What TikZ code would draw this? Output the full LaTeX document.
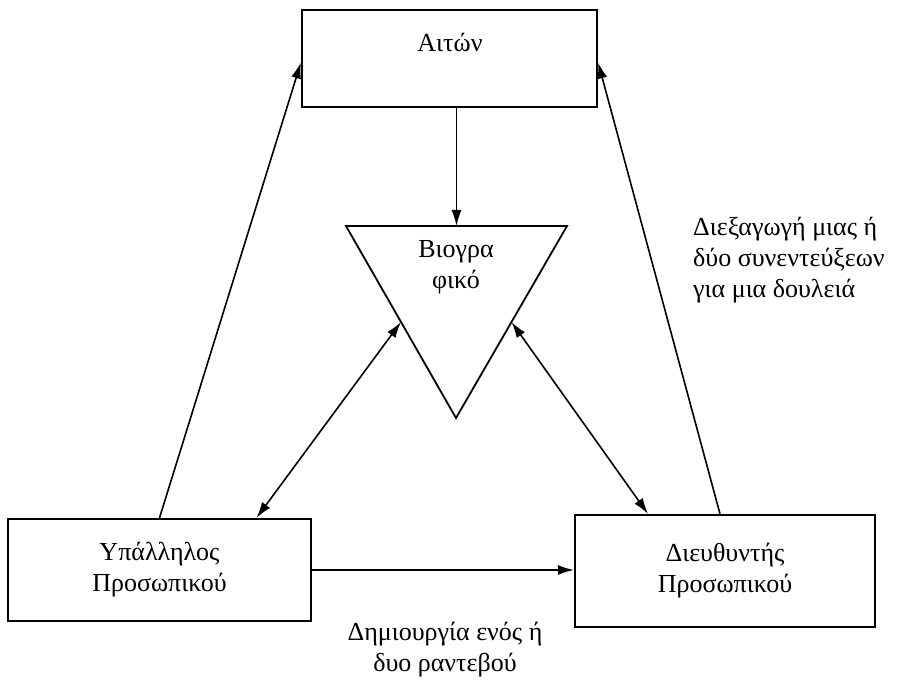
\documentclass[tikz,border=0pt]{standalone}
\usepackage{fontspec}
\setmainfont{Liberation Serif}
\usetikzlibrary{calc,arrows.meta}
\begin{document}
\begin{tikzpicture}[x=1pt,y=-1pt,
  box/.style={draw,line width=2.2pt,minimum width=#1,inner sep=0pt},
  lbl/.style={font=\fontsize{26}{31}\selectfont,align=center,inner sep=0pt},
  tip/.style={Latex[length=16pt,width=10pt]},
  arr/.style={line width=1.6pt,-{Latex[length=16pt,width=10pt]}},
  barr/.style={line width=1.6pt,{Latex[length=16pt,width=10pt]}-{Latex[length=16pt,width=10pt]}}]
\useasboundingbox (0,0) rectangle (902,687);
% boxes
\node[box=295pt,minimum height=97pt] (aitwn) at (449.5,58.5) {};
\node[lbl] (aitwnt) at (450,42) {Αιτών};
\node[box=303pt,minimum height=102pt,lbl] (ypal) at (159.5,570) {Υπάλληλος\\Προσωπικού};
\node[box=300pt,minimum height=112pt,lbl] (dir) at (725,571) {Διευθυντής\\Προσωπικού};
% inverted triangle
\coordinate (tl) at (346,226);
\coordinate (tr) at (567,226);
\coordinate (bot) at (456,418);
\coordinate (ttop) at ($(tl)!0.5!(tr)$);
\draw[line width=1.8pt,line join=miter] (tl) -- (tr) -- (bot) -- cycle;
\node[lbl] (bio) at (456,267) {Βιογρα\\φικό};
% connectors
\draw[arr] (aitwn.south -| ttop) -- (ttop);
\draw[arr] (ypal.north) -- ([yshift=-4pt]aitwn.west);
\draw[arr] ([xshift=-5pt]dir.north) -- ([yshift=-4pt]aitwn.east);
\draw[barr] ([xshift=97pt]ypal.north) -- ($(tl)!0.5!(bot)$);
\draw[barr] ($(tr)!0.5!(bot)$) -- ([xshift=-77pt]dir.north);
\draw[arr] (ypal.east) -- (ypal.east -| dir.west);
% labels
\node[lbl,align=left,anchor=west] (intv) at (693,260) {Διεξαγωγή μιας ή\\δύο συνεντεύξεων\\για μια δουλειά};
\node[lbl] (rant) at (445,650) {Δημιουργία ενός ή\\δυο ραντεβού};
\end{tikzpicture}
\end{document}
